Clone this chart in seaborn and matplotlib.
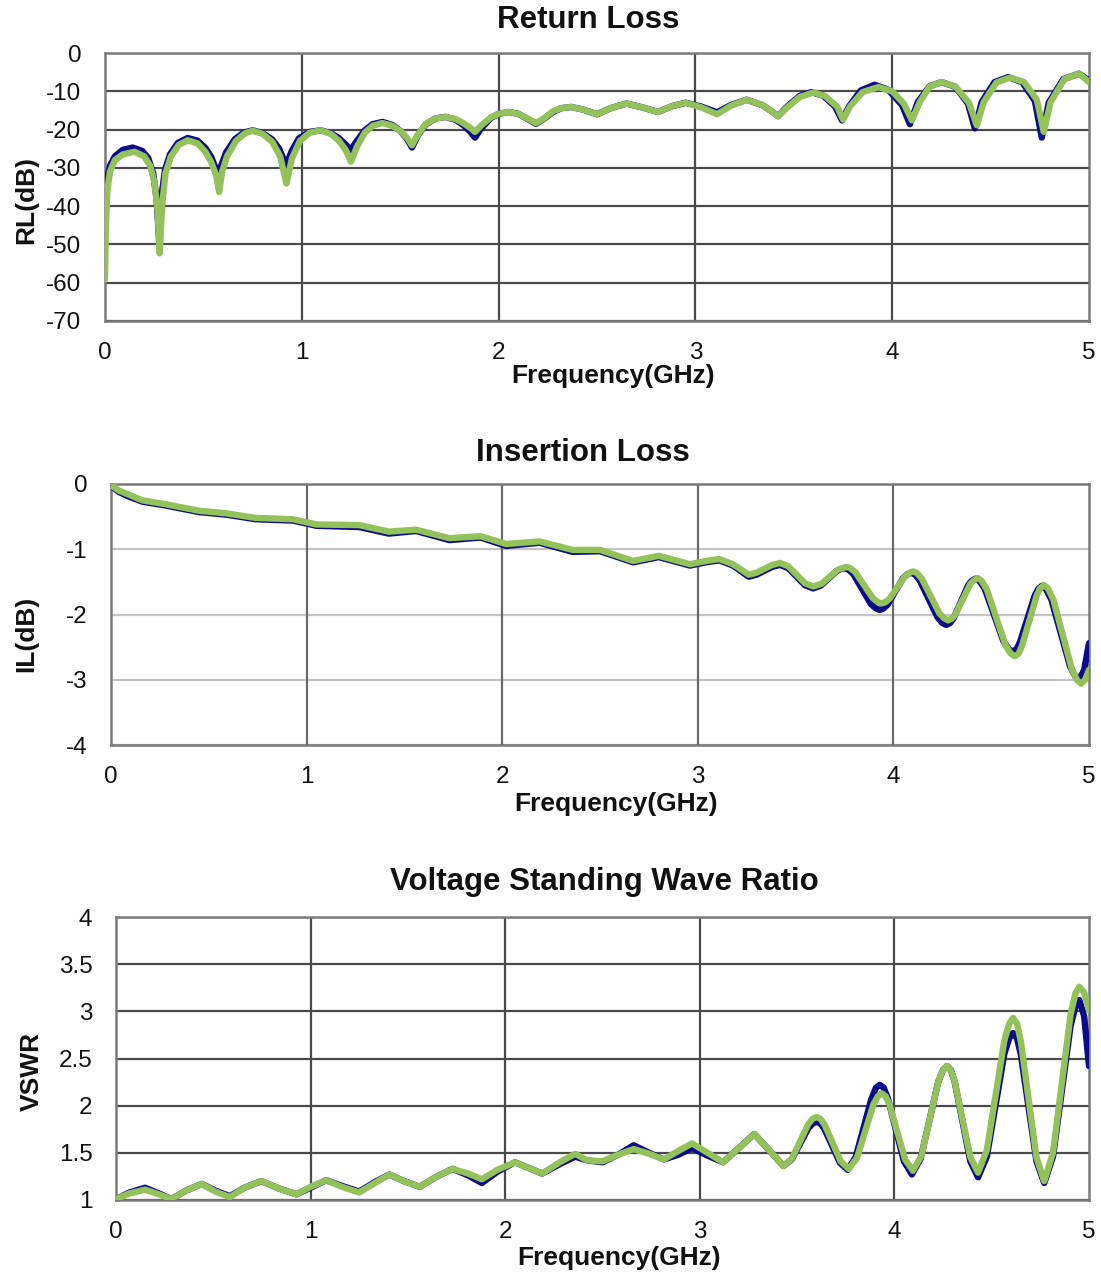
import numpy as np
import pandas as pd
import seaborn as sns
import matplotlib
matplotlib.use("Agg")
import matplotlib.pyplot as plt

# ---------------- data ----------------
# Return loss (dB)
rl_blue_f = [0.0, 0.01, 0.025, 0.05, 0.09, 0.14, 0.19, 0.22, 0.245, 0.262,
             0.275, 0.288, 0.305, 0.33, 0.37, 0.42, 0.47, 0.51, 0.54, 0.56,
             0.575, 0.59, 0.615, 0.66, 0.705, 0.75, 0.8, 0.85, 0.885, 0.92,
             0.95, 0.985, 1.04, 1.096, 1.15, 1.19, 1.225, 1.248, 1.275, 1.32,
             1.36, 1.41, 1.46, 1.5, 1.535, 1.56, 1.59, 1.63, 1.68, 1.73,
             1.78, 1.82, 1.855, 1.88, 1.91, 1.96, 2.0, 2.05, 2.1, 2.15,
             2.19, 2.23, 2.28, 2.32, 2.37, 2.43, 2.5, 2.57, 2.65, 2.73,
             2.81, 2.88, 2.95, 3.03, 3.11, 3.18, 3.26, 3.34, 3.39, 3.42,
             3.46, 3.53, 3.59, 3.65, 3.71, 3.745, 3.78, 3.84, 3.91, 3.98,
             4.05, 4.09, 4.13, 4.19, 4.25, 4.32, 4.385, 4.42, 4.455, 4.52,
             4.59, 4.66, 4.725, 4.76, 4.795, 4.87, 4.95, 5.0]
rl_blue_v = [-40, -33, -29.5, -27, -25.3, -24.7, -25.6, -27.5, -31.5, -38,
             -49, -37, -30.5, -26.5, -23.5, -22.2, -22.9, -24.8, -27.2, -29.8,
             -32.3, -29.5, -26, -22.5, -20.8, -20.2, -20.9, -22.6, -25, -29.3,
             -25.5, -22.3, -20.6, -20.2, -21, -22.3, -24, -25.4, -23.3, -20.2,
             -18.6, -18, -18.8, -20.3, -22.5, -24.7, -21.5, -18.6, -17.1, -16.7,
             -17.4, -18.8, -20.5, -22.1, -19.8, -17, -15.9, -15.4, -15.9, -17.3,
             -18.5, -17.2, -15.3, -14.4, -14.1, -14.8, -16, -14.4, -13.2, -14.2,
             -15.4, -13.9, -13, -14, -15.5, -13.6, -12.2, -13.6, -15.3, -16.5,
             -14.3, -11.2, -10.2, -11.2, -14, -17.6, -14, -9.8, -8.3, -9.6,
             -13.6, -18.6, -12.8, -8.7, -7.6, -8.8, -13.2, -19.7, -12.8, -7.6,
             -6.3, -7.6, -12.5, -22.1, -13, -6.8, -5.4, -7.2]

rl_green_f = [0.0, 0.004, 0.012, 0.025, 0.05, 0.09, 0.15, 0.2, 0.23, 0.252,
              0.267, 0.278, 0.29, 0.307, 0.335, 0.375, 0.42, 0.47, 0.51, 0.54,
              0.565, 0.58, 0.595, 0.62, 0.665, 0.71, 0.75, 0.8, 0.85, 0.89,
              0.922, 0.95, 0.99, 1.04, 1.096, 1.15, 1.19, 1.225, 1.25, 1.28,
              1.32, 1.36, 1.41, 1.46, 1.5, 1.535, 1.56, 1.59, 1.63, 1.68,
              1.73, 1.78, 1.82, 1.855, 1.88, 1.91, 1.96, 2.0, 2.05, 2.1,
              2.15, 2.19, 2.23, 2.28, 2.32, 2.37, 2.43, 2.5, 2.57, 2.65,
              2.73, 2.81, 2.88, 2.95, 3.03, 3.11, 3.18, 3.26, 3.34, 3.39,
              3.42, 3.46, 3.53, 3.6, 3.66, 3.72, 3.75, 3.785, 3.85, 3.93,
              4.0, 4.06, 4.1, 4.14, 4.19, 4.25, 4.32, 4.39, 4.43, 4.465,
              4.53, 4.6, 4.67, 4.735, 4.77, 4.805, 4.875, 4.95, 5.0]
rl_green_v = [-59, -46, -36, -31, -28, -26.5, -25.8, -27, -29.5, -34,
              -41, -52.3, -40, -31.5, -27, -24, -22.8, -23.6, -25.8, -28.5,
              -32, -36.3, -31, -27, -23, -21, -20.3, -21.1, -23.2, -27,
              -34.1, -27.5, -23, -20.8, -20.2, -21.2, -23, -25.5, -28.4, -24.5,
              -20.8, -19, -18.3, -19, -20.3, -22.2, -24.1, -21.3, -18.5, -17.1,
              -16.7, -17.2, -18.3, -19.5, -20.6, -19, -16.8, -15.9, -15.4, -15.9,
              -17.2, -18.3, -17.1, -15.1, -14.4, -14.1, -14.8, -16, -14.4, -13.2,
              -14.2, -15.4, -13.9, -13, -14.2, -16, -13.8, -12.2, -13.6, -15.3,
              -16.5, -14.5, -11.5, -10.3, -11.3, -14, -17.4, -14, -10.2, -8.9,
              -10, -13.3, -17.6, -12.8, -8.8, -7.6, -8.7, -13, -18.9, -12.8,
              -7.7, -6.4, -7.6, -12.2, -20.6, -12.8, -6.8, -5.4, -7.6]

# Insertion loss (dB)
il_blue_f = [0.0, 0.04, 0.08, 0.16, 0.28, 0.45, 0.59, 0.74, 0.93, 1.05,
             1.27, 1.42, 1.56, 1.73, 1.89, 2.02, 2.19, 2.36, 2.5, 2.67,
             2.80, 2.96, 3.04, 3.11, 3.18, 3.26, 3.30, 3.34, 3.38, 3.42,
             3.4625, 3.505, 3.5475, 3.59, 3.63, 3.67, 3.71, 3.73, 3.75, 3.77,
             3.795, 3.84, 3.885, 3.91, 3.93, 3.95, 3.97, 4.01, 4.05, 4.07,
             4.09, 4.11, 4.135, 4.18, 4.225, 4.25, 4.27, 4.29, 4.3075, 4.345,
             4.3825, 4.40, 4.42, 4.44, 4.4675, 4.515, 4.5625, 4.59, 4.61, 4.63,
             4.6475, 4.685, 4.7225, 4.74, 4.76, 4.78, 4.8075, 4.855, 4.9025, 4.93,
             4.95, 4.975, 5.0]
il_blue_v = [-0.03, -0.12, -0.18, -0.27, -0.33, -0.43, -0.47, -0.54, -0.56, -0.64,
             -0.66, -0.76, -0.72, -0.86, -0.82, -0.95, -0.90, -1.04, -1.03, -1.20,
             -1.12, -1.25, -1.20, -1.17, -1.25, -1.42, -1.39, -1.33, -1.27, -1.24,
             -1.29, -1.42, -1.55, -1.60, -1.555, -1.445, -1.335, -1.305, -1.29, -1.31,
             -1.38, -1.61, -1.84, -1.905, -1.93, -1.905, -1.85, -1.645, -1.44, -1.385,
             -1.36, -1.385, -1.48, -1.76, -2.04, -2.13, -2.16, -2.13, -2.06, -1.805,
             -1.55, -1.485, -1.45, -1.485, -1.61, -2.01, -2.41, -2.53, -2.57, -2.53,
             -2.42, -2.065, -1.71, -1.61, -1.56, -1.61, -1.77, -2.28, -2.79, -2.95,
             -3.00, -2.85, -2.44]

il_green_f = [0.0, 0.04, 0.08, 0.16, 0.28, 0.45, 0.59, 0.74, 0.93, 1.05,
              1.27, 1.42, 1.56, 1.73, 1.89, 2.02, 2.19, 2.36, 2.5, 2.67,
              2.80, 2.96, 3.04, 3.11, 3.18, 3.26, 3.30, 3.34, 3.38, 3.42,
              3.4625, 3.505, 3.5475, 3.59, 3.6325, 3.675, 3.7175, 3.74, 3.76, 3.78,
              3.805, 3.85, 3.895, 3.92, 3.94, 3.96, 3.98, 4.02, 4.06, 4.08,
              4.10, 4.12, 4.145, 4.19, 4.235, 4.26, 4.28, 4.30, 4.3175, 4.355,
              4.3925, 4.41, 4.43, 4.45, 4.4775, 4.525, 4.5725, 4.60, 4.62, 4.64,
              4.6575, 4.695, 4.7325, 4.75, 4.77, 4.79, 4.8175, 4.865, 4.9125, 4.94,
              4.96, 4.98, 5.0]
il_green_v = [-0.02, -0.10, -0.15, -0.25, -0.31, -0.41, -0.45, -0.52, -0.54, -0.62,
              -0.63, -0.73, -0.70, -0.83, -0.80, -0.92, -0.88, -1.01, -1.01, -1.18,
              -1.10, -1.23, -1.18, -1.15, -1.23, -1.39, -1.36, -1.30, -1.24, -1.21,
              -1.26, -1.39, -1.52, -1.57, -1.53, -1.42, -1.31, -1.29, -1.27, -1.29,
              -1.35, -1.55, -1.75, -1.81, -1.83, -1.81, -1.76, -1.585, -1.41, -1.365,
              -1.34, -1.365, -1.45, -1.715, -1.98, -2.06, -2.09, -2.06, -1.995, -1.765,
              -1.535, -1.48, -1.44, -1.48, -1.615, -2.04, -2.465, -2.60, -2.64, -2.60,
              -2.48, -2.095, -1.71, -1.60, -1.55, -1.60, -1.77, -2.305, -2.84, -3.01,
              -3.06, -3.00, -2.85]

# VSWR
vs_blue_f = [0.0, 0.07, 0.149, 0.22, 0.285, 0.36, 0.44, 0.51, 0.585, 0.66,
             0.747, 0.84, 0.927, 1.0, 1.08, 1.16, 1.25, 1.33, 1.405, 1.48,
             1.56, 1.65, 1.73, 1.81, 1.88, 1.96, 2.05, 2.12, 2.19, 2.28,
             2.36, 2.42, 2.5, 2.58, 2.66, 2.74, 2.815, 2.89, 2.96, 3.04,
             3.12, 3.2, 3.28, 3.36, 3.43, 3.4725, 3.515, 3.5575, 3.58, 3.60,
             3.62, 3.64, 3.68, 3.72, 3.76, 3.80, 3.8425, 3.88, 3.905, 3.925,
             3.945, 3.966, 4.0075, 4.049, 4.09, 4.135, 4.18, 4.225, 4.25, 4.27,
             4.29, 4.31, 4.35, 4.39, 4.43, 4.475, 4.52, 4.565, 4.59, 4.61,
             4.63, 4.65, 4.69, 4.73, 4.77, 4.815, 4.86, 4.905, 4.93, 4.95,
             4.975, 5.0]
vs_blue_v = [1.01, 1.08, 1.13, 1.07, 1.01, 1.10, 1.17, 1.10, 1.04, 1.13,
             1.20, 1.12, 1.06, 1.13, 1.21, 1.15, 1.09, 1.19, 1.27, 1.20,
             1.14, 1.25, 1.33, 1.26, 1.18, 1.30, 1.40, 1.34, 1.28, 1.38,
             1.46, 1.42, 1.40, 1.48, 1.58, 1.50, 1.43, 1.48, 1.55, 1.47,
             1.40, 1.55, 1.70, 1.52, 1.36, 1.43, 1.595, 1.76, 1.81, 1.83,
             1.81, 1.755, 1.575, 1.395, 1.32, 1.45, 1.77, 2.06, 2.19, 2.22,
             2.19, 2.08, 1.745, 1.41, 1.27, 1.44, 1.845, 2.25, 2.38, 2.42,
             2.38, 2.25, 1.83, 1.41, 1.24, 1.46, 2.005, 2.55, 2.715, 2.77,
             2.715, 2.54, 1.975, 1.41, 1.18, 1.46, 2.15, 2.84, 3.05, 3.12,
             2.95, 2.42]

vs_green_f = [0.0, 0.07, 0.149, 0.22, 0.285, 0.36, 0.44, 0.51, 0.585, 0.66,
              0.747, 0.84, 0.927, 1.0, 1.08, 1.16, 1.25, 1.33, 1.405, 1.48,
              1.56, 1.65, 1.73, 1.81, 1.88, 1.96, 2.05, 2.12, 2.19, 2.28,
              2.36, 2.42, 2.5, 2.58, 2.66, 2.74, 2.815, 2.89, 2.96, 3.04,
              3.12, 3.2, 3.28, 3.36, 3.43, 3.4725, 3.515, 3.5575, 3.58, 3.60,
              3.62, 3.641, 3.6825, 3.724, 3.765, 3.8075, 3.85, 3.8925, 3.915, 3.935,
              3.955, 3.975, 4.015, 4.055, 4.095, 4.139, 4.1825, 4.226, 4.25, 4.27,
              4.29, 4.31, 4.35, 4.39, 4.43, 4.475, 4.52, 4.565, 4.59, 4.61,
              4.63, 4.65, 4.69, 4.73, 4.77, 4.815, 4.86, 4.905, 4.93, 4.95,
              4.975, 5.0]
vs_green_v = [1.01, 1.07, 1.11, 1.06, 1.01, 1.10, 1.17, 1.09, 1.03, 1.13,
              1.20, 1.12, 1.06, 1.14, 1.21, 1.14, 1.08, 1.18, 1.27, 1.20,
              1.14, 1.25, 1.33, 1.28, 1.22, 1.32, 1.40, 1.34, 1.28, 1.40,
              1.49, 1.42, 1.41, 1.48, 1.54, 1.49, 1.43, 1.52, 1.60, 1.50,
              1.40, 1.55, 1.70, 1.52, 1.36, 1.435, 1.62, 1.805, 1.86, 1.88,
              1.86, 1.80, 1.605, 1.41, 1.33, 1.445, 1.73, 2.015, 2.10, 2.13,
              2.10, 2.01, 1.72, 1.43, 1.31, 1.47, 1.865, 2.26, 2.38, 2.42,
              2.38, 2.255, 1.855, 1.455, 1.29, 1.53, 2.11, 2.69, 2.87, 2.93,
              2.87, 2.68, 2.065, 1.45, 1.20, 1.50, 2.23, 2.96, 3.19, 3.26,
              3.20, 3.01]

freq_ticks = [0, 1, 2, 3, 4, 5]
rl_ticks = [0, -10, -20, -30, -40, -50, -60, -70]
il_ticks = [0, -1, -2, -3, -4]
vs_ticks = [1, 1.5, 2, 2.5, 3, 3.5, 4]
titles = ["Return Loss", "Insertion Loss", "Voltage Standing Wave Ratio"]
ylabels = ["RL(dB)", "IL(dB)", "VSWR"]
xlabel = "Frequency(GHz)"

# ---------------- style ----------------
sns.set_theme(style="white")
plt.rcParams["font.family"] = ["Liberation Sans", "DejaVu Sans"]

BLUE = "#0c0c8a"
GREEN = "#93c15a"
W, H = 1101, 1276
fig = plt.figure(figsize=(W / 100, H / 100), dpi=100)

def px_axes(l, t, r, b):
    return fig.add_axes([l / W, 1 - b / H, (r - l) / W, (b - t) / H])

panels = [
    dict(box=(105, 53, 1089, 321), data=(rl_blue_f, rl_blue_v, rl_green_f, rl_green_v),
         ylim=(-70, 0), yticks=rl_ticks, hgrid="#4a4a4a", vgrid="#4a4a4a",
         title_xy=(588, 20), ylab_xy=(26, 200), xlab_xy=(613, 364)),
    dict(box=(111, 484, 1089, 745), data=(il_blue_f, il_blue_v, il_green_f, il_green_v),
         ylim=(-4, 0), yticks=il_ticks, hgrid="#c4c4c4", vgrid="#6a6a6a",
         title_xy=(583, 453), ylab_xy=(26, 634), xlab_xy=(616, 792)),
    dict(box=(116, 917, 1089, 1200), data=(vs_blue_f, vs_blue_v, vs_green_f, vs_green_v),
         ylim=(1, 4), yticks=vs_ticks, hgrid="#4a4a4a", vgrid="#4a4a4a",
         title_xy=(604, 882), ylab_xy=(32, 1071), xlab_xy=(619, 1246)),
]

def fmt(v):
    return ("%g" % v)

for i, p in enumerate(panels):
    l, t, r, b = p["box"]
    ax = px_axes(l, t, r, b)
    bf, bv, gf, gv = p["data"]
    sns.lineplot(x=bf, y=bv, ax=ax, color=BLUE, linewidth=4.6, estimator=None, sort=True,
                 solid_joinstyle="round", solid_capstyle="round", zorder=3)
    sns.lineplot(x=gf, y=gv, ax=ax, color=GREEN, linewidth=4.6, estimator=None, sort=True,
                 solid_joinstyle="round", solid_capstyle="round", zorder=4)
    ax.set_xlim(0, 5)
    ax.set_ylim(*p["ylim"])
    ax.set_xticks(freq_ticks)
    ax.set_xticklabels([fmt(v) for v in freq_ticks])
    ax.set_yticks(p["yticks"])
    ax.set_yticklabels([fmt(v) for v in p["yticks"]])
    ax.tick_params(axis="both", length=0, labelsize=17.5, colors="#111111")
    ax.tick_params(axis="y", pad=17)
    ax.tick_params(axis="x", pad=15)
    for yv in p["yticks"]:
        ax.axhline(yv, color=p["hgrid"], linewidth=1.6, zorder=1)
    for xv in freq_ticks[1:-1]:
        ax.axvline(xv, color=p["vgrid"], linewidth=1.6, zorder=1)
    for s in ax.spines.values():
        s.set_color("#7a7a7a")
        s.set_linewidth(1.8)
        s.set_visible(True)
    ax.set_xlabel("")
    ax.set_ylabel("")
    tx, ty = p["title_xy"]
    fig.text(tx / W, 1 - ty / H, titles[i], ha="center", va="center",
             fontsize=22.5, fontweight="bold", color="#111111")
    yx, yy = p["ylab_xy"]
    fig.text(yx / W, 1 - yy / H, ylabels[i], ha="center", va="center", rotation=90,
             fontsize=19, fontweight="bold", color="#111111")
    xx, xy = p["xlab_xy"]
    fig.text(xx / W, 1 - xy / H, xlabel, ha="center", va="top",
             fontsize=19, fontweight="bold", color="#111111")

fig.savefig("out.png", dpi=100, facecolor="white")
